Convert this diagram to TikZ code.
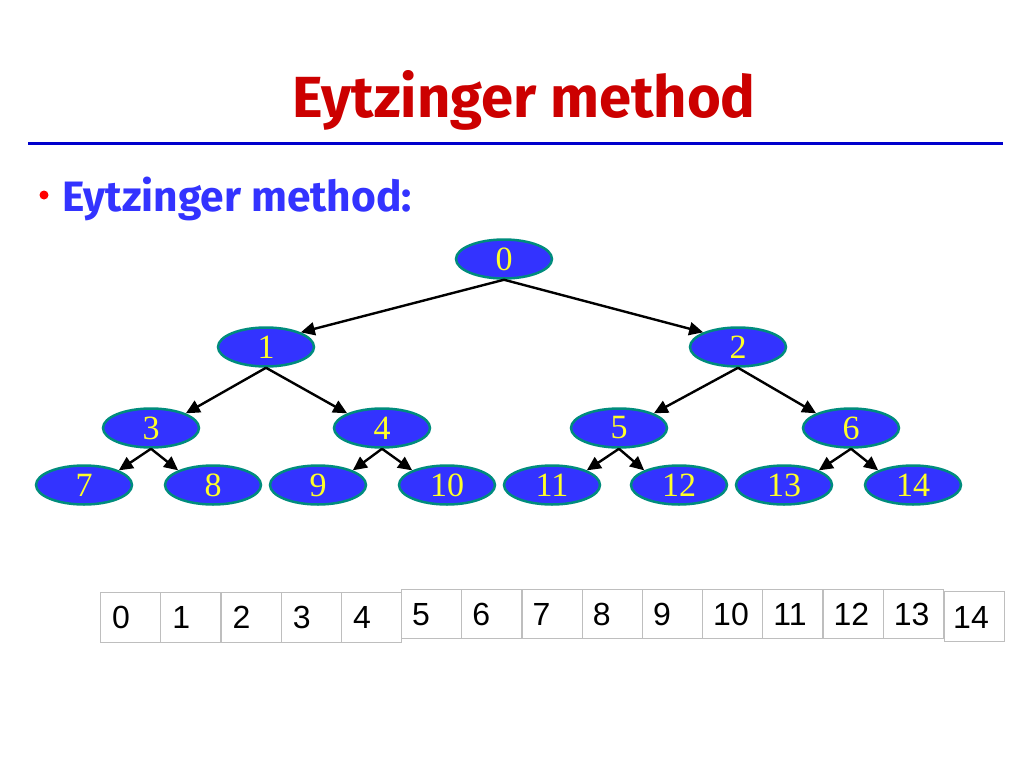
\documentclass[tikz,border=0pt]{standalone}
\usepackage{fontspec}
\usepackage{tikz}
\usetikzlibrary{arrows.meta,shapes.geometric}
\setmainfont{Liberation Serif}
\newfontfamily\headfont{Fira Sans}
\newfontfamily\cellfont{Liberation Sans}
\definecolor{headred}{RGB}{204,0,0}
\definecolor{ruleblue}{RGB}{0,0,204}
\definecolor{subblue}{RGB}{51,51,255}
\definecolor{nodeblue}{RGB}{51,51,255}
\definecolor{nodeedge}{RGB}{0,140,125}
\definecolor{nodetext}{RGB}{255,255,40}
\definecolor{cellline}{RGB}{190,190,190}

\begin{document}
\begin{tikzpicture}[x=1pt,y=-1pt,
  treenode/.style={ellipse,draw=nodeedge,line width=2.5pt,fill=nodeblue,
    minimum width=96pt,minimum height=39pt,inner sep=0pt,
    text=nodetext,font=\fontsize{34}{34}\selectfont},
  edge/.style={line width=2.4pt,-{Triangle[length=14pt,width=13pt]}},
  cellbox/.style={draw=cellline,line width=0.8pt,minimum width=60.3pt,
    minimum height=49.5pt,inner sep=0pt,anchor=north west},
  celltext/.style={anchor=base west,inner sep=0pt,
    font=\cellfont\fontsize{32}{32}\selectfont}]
\useasboundingbox (0,0) rectangle (1024,768);
% heading
\node[anchor=base,inner sep=0pt,text=headred,
  font=\headfont\bfseries\fontsize{58}{58}\selectfont] (head) at (524,117) {Eytzinger method};
\draw[ruleblue,line width=3pt] (28,143) -- (1003,143);
\fill[red] (44,195) circle (4.5pt);
\node[anchor=base west,inner sep=0pt,text=subblue,
  font=\headfont\bfseries\fontsize{42.5}{42.5}\selectfont] (sub) at (62,211) {Eytzinger method:};
% tree
\node[treenode] (n0) at (504,259) {0};
\node[treenode] (n1) at (266,347) {1};
\node[treenode] (n2) at (738,347) {2};
\node[treenode] (n3) at (151,428) {3};
\node[treenode] (n4) at (382,428) {4};
\node[treenode] (n5) at (619,428) {5};
\node[treenode] (n6) at (851,428) {6};
\node[treenode] (n7) at (84,485) {7};
\node[treenode] (n8) at (213,485) {8};
\node[treenode] (n9) at (318,485) {9};
\node[treenode] (n10) at (447,485) {10};
\node[treenode] (n11) at (552,485) {11};
\node[treenode] (n12) at (679,485) {12};
\node[treenode] (n13) at (784,485) {13};
\node[treenode] (n14) at (913,485) {14};
\foreach \p in {0,...,6}{
  \pgfmathtruncatemacro\l{2*\p+1}
  \pgfmathtruncatemacro\r{2*\p+2}
  \draw[edge] (n\p.south) -- (n\l.north east);
  \draw[edge] (n\p.south) -- (n\r.north west);
}
% array
\foreach \i in {0,...,4}{
  \node[cellbox] (c\i) at (100+60.2*\i,592) {};
  \node[celltext] at (112+60.2*\i,628) {\i};
}
\foreach \i in {5,...,13}{
  \node[cellbox] (c\i) at (100+60.2*\i,588.5) {};
  \node[celltext] at (111+60.2*\i,625) {\i};
}
\node[cellbox,minimum width=59.5pt] (c14) at (944,591) {};
\node[celltext] at (953,628) {14};
\end{tikzpicture}
\end{document}
